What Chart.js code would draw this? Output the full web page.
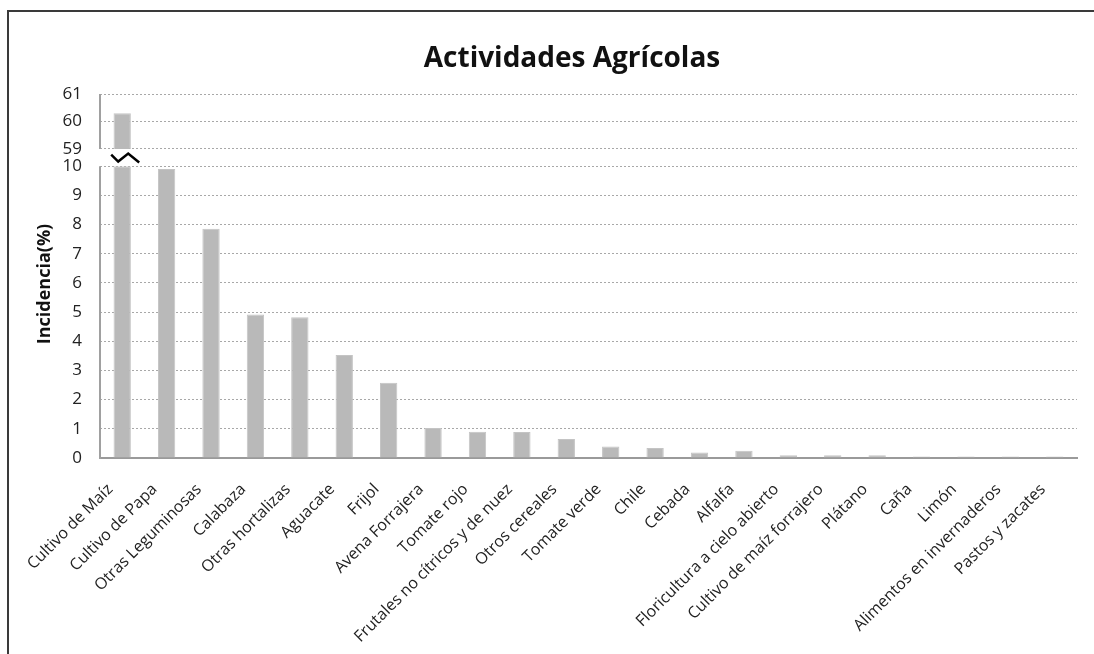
<!DOCTYPE html>
<html>
<head>
<meta charset="utf-8">
<script src="https://cdn.jsdelivr.net/npm/chart.js@4.4.1/dist/chart.umd.min.js"></script>
<style>
  html, body { margin: 0; padding: 0; background: #fff; overflow: hidden; }
  #wrap { position: relative; width: 1094px; height: 654px; overflow: hidden; }
  #frame { position: absolute; left: 7px; top: 10px; width: 1300px; height: 900px; border-left: 2px solid #3a3a3a; border-top: 2px solid #3a3a3a; }
  canvas { position: absolute; left: 0; top: 0; }
</style>
</head>
<body>
<div id="wrap">
  <div id="frame"></div>
  <canvas id="c" width="1094" height="654"></canvas>
</div>
<script>
const chartTitle = 'Actividades Agrícolas';
const yTitle = 'Incidencia(%)';
const categories = [
  'Cultivo de Maíz', 'Cultivo de Papa', 'Otras Leguminosas', 'Calabaza', 'Otras hortalizas',
  'Aguacate', 'Frijol', 'Avena Forrajera', 'Tomate rojo', 'Frutales no cítricos y de nuez',
  'Otros cereales', 'Tomate verde', 'Chile', 'Cebada', 'Alfalfa',
  'Floricultura a cielo abierto', 'Cultivo de maíz forrajero', 'Plátano', 'Caña', 'Limón',
  'Alimentos en invernaderos', 'Pastos y zacates'
];
const values = [60.3, 9.9, 7.86, 4.92, 4.82, 3.53, 2.58, 1.03, 0.9, 0.89, 0.65, 0.39, 0.34, 0.19, 0.25, 0.09, 0.09, 0.09, 0.05, 0.05, 0.05, 0.05];
const bottomTicks = [0, 1, 2, 3, 4, 5, 6, 7, 8, 9, 10];
const topTicks = [59, 60, 61];
const bottomMax = 10;
const topAxisMin = 58.37;

const bottomData = values.map(v => Math.min(v, bottomMax));
const topData = values.map(v => v > bottomMax ? [topTicks[0], v] : null);

const tickFont = { family: 'Open Sans', size: 17 };
const gridStyle = { color: '#a8a8a8', lineWidth: 1, drawTicks: false };

const overlayPlugin = {
  id: 'overlayPlugin',
  afterDraw(chart) {
    const { ctx, scales, chartArea } = chart;
    const yt = scales.yTop, yb = scales.y, xs = scales.x;
    ctx.save();
    ctx.strokeStyle = '#a0a0a0';
    ctx.lineWidth = 2;
    const lx = chartArea.left;
    ctx.beginPath();
    ctx.moveTo(lx, yt.getPixelForValue(topTicks[topTicks.length - 1]));
    ctx.lineTo(lx, yt.getPixelForValue(topTicks[0]));
    ctx.moveTo(lx, yb.getPixelForValue(bottomTicks[bottomTicks.length - 1]));
    ctx.lineTo(lx, yb.getPixelForValue(bottomTicks[0]) + 1);
    ctx.stroke();
    const my = (yt.getPixelForValue(topTicks[0]) + yb.getPixelForValue(bottomMax)) / 2;
    values.forEach((v, i) => {
      if (v > bottomMax) {
        const cx = xs.getPixelForValue(i);
        ctx.strokeStyle = '#000';
        ctx.lineWidth = 2.5;
        ctx.beginPath();
        ctx.moveTo(cx - 11, my - 3);
        ctx.lineTo(cx - 4, my + 4);
        ctx.lineTo(cx + 6, my - 4);
        ctx.lineTo(cx + 17, my + 5);
        ctx.stroke();
      }
    });
    ctx.fillStyle = '#111';
    ctx.font = 'bold 28px "Open Sans"';
    ctx.textAlign = 'center';
    ctx.textBaseline = 'middle';
    ctx.fillText(chartTitle, 572, 59);
    ctx.font = 'bold 18px "Open Sans"';
    ctx.translate(45, (chartArea.top + chartArea.bottom) / 2 + 8);
    ctx.rotate(-Math.PI / 2);
    ctx.fillText(yTitle, 0, 0);
    ctx.restore();
  }
};

new Chart(document.getElementById('c'), {
  type: 'bar',
  data: {
    labels: categories,
    datasets: [
      { data: bottomData, yAxisID: 'y', backgroundColor: '#b9b9b9', borderColor: '#c4c4c4', borderWidth: 1, grouped: false, barPercentage: 0.39, categoryPercentage: 1 },
      { data: topData, yAxisID: 'yTop', backgroundColor: '#b9b9b9', borderColor: '#c4c4c4', borderWidth: 1, grouped: false, barPercentage: 0.39, categoryPercentage: 1 }
    ]
  },
  options: {
    responsive: false,
    animation: false,
    layout: { padding: { left: 0, right: 17, top: 94, bottom: 0 } },
    plugins: {
      legend: { display: false },
      tooltip: { enabled: false },
      title: { display: false }
    },
    scales: {
      x: {
        grid: { display: false },
        border: { display: true, color: '#9a9a9a', width: 2 },
        ticks: {
          color: '#222',
          font: { family: 'Open Sans', size: 16 },
          minRotation: 45, maxRotation: 45, autoSkip: false, padding: 14, labelOffset: -12
        },
        afterFit(s) { s.height = 196; }
      },
      y: {
        type: 'linear',
        position: 'left',
        stack: 'y',
        stackWeight: 292.6,
        min: 0,
        max: bottomMax,
        grid: gridStyle,
        border: { display: false, dash: [2, 2] },
        ticks: { color: '#222', font: tickFont, padding: 18, autoSkip: false },
        afterBuildTicks(s) { s.ticks = bottomTicks.map(v => ({ value: v })); },
        afterFit(s) { s.width = 100; }
      },
      yTop: {
        type: 'linear',
        position: 'left',
        stack: 'y',
        stackWeight: 72.4,
        min: topAxisMin,
        max: topTicks[topTicks.length - 1],
        grid: gridStyle,
        border: { display: false, dash: [2, 2] },
        ticks: { color: '#222', font: tickFont, padding: 18, autoSkip: false },
        afterBuildTicks(s) { s.ticks = topTicks.map(v => ({ value: v })); },
        afterFit(s) { s.width = 100; }
      }
    }
  },
  plugins: [overlayPlugin]
});
</script>
</body>
</html>
